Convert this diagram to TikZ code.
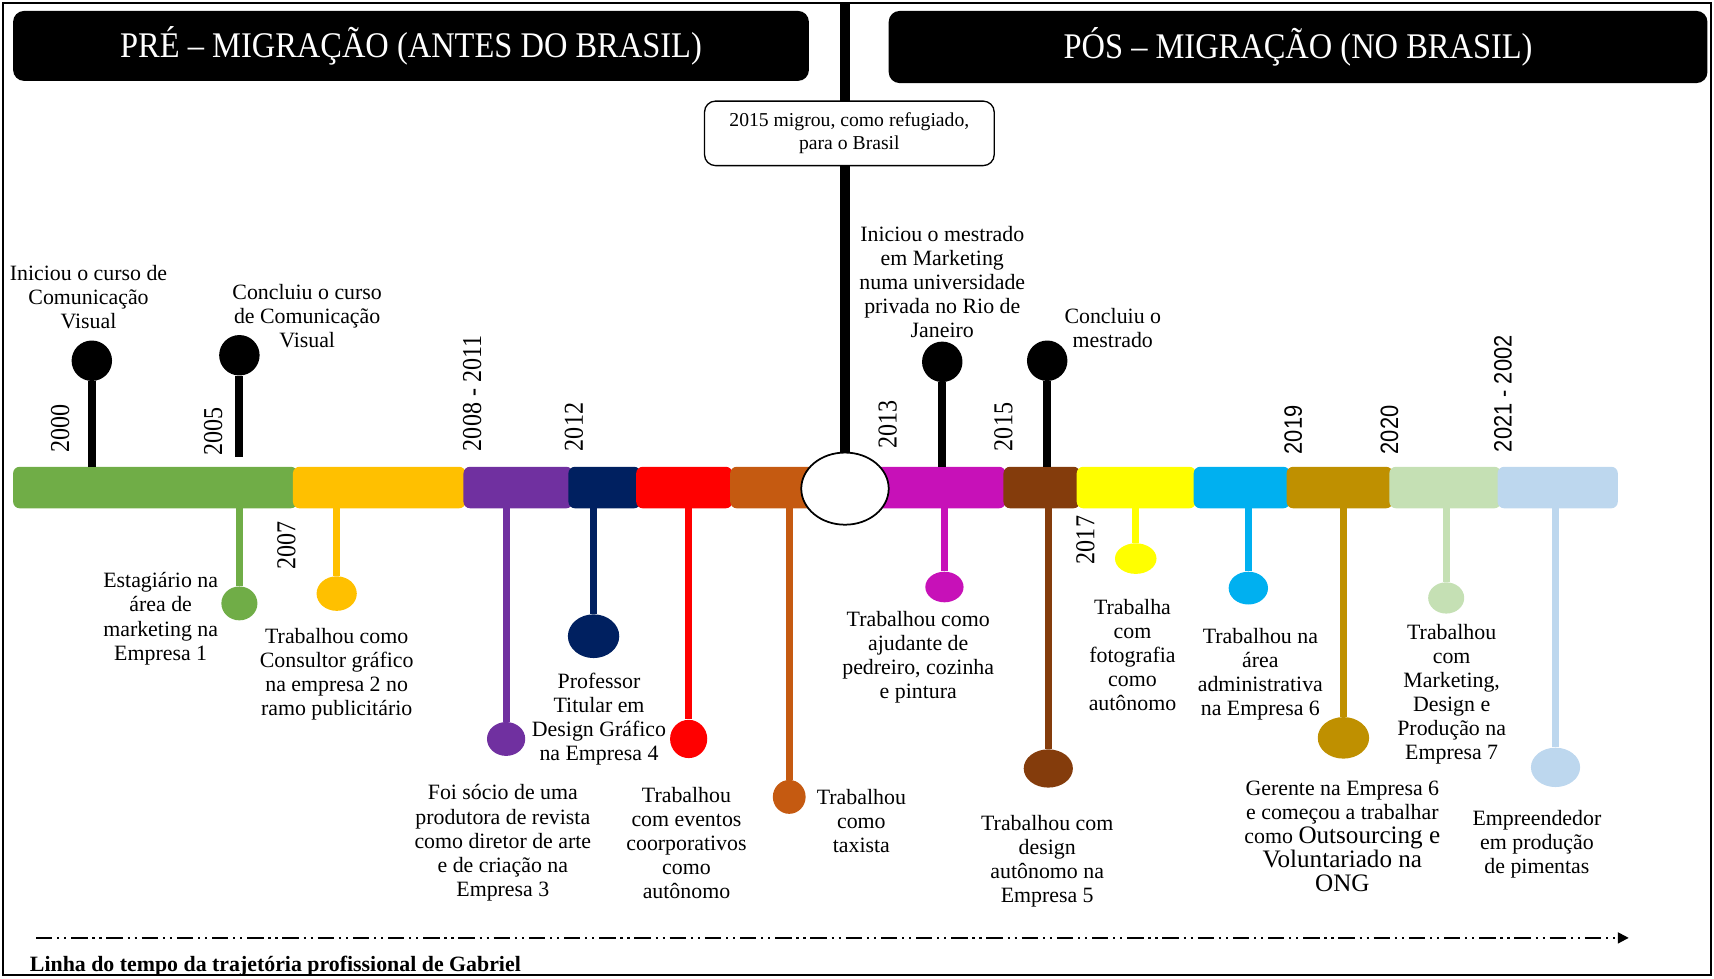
\documentclass[tikz,border=0pt]{standalone}
\usepackage{fontspec}
\setmainfont{Liberation Serif}
\newfontfamily\yrsans{Liberation Sans}
\usetikzlibrary{shapes.geometric,arrows.meta}

\definecolor{cGreen}{HTML}{70AD47}
\definecolor{cOrange}{HTML}{FFC000}
\definecolor{cPurple}{HTML}{7030A0}
\definecolor{cNavy}{HTML}{002060}
\definecolor{cRed}{HTML}{FF0000}
\definecolor{cRust}{HTML}{C55A11}
\definecolor{cMagenta}{HTML}{C711B8}
\definecolor{cBrown}{HTML}{843C0C}
\definecolor{cYellow}{HTML}{FFFF00}
\definecolor{cCyan}{HTML}{00B0F0}
\definecolor{cGold}{HTML}{BF9000}
\definecolor{cLtGreen}{HTML}{C5E0B4}
\definecolor{cLtBlue}{HTML}{BDD7EE}

\newcommand{\bigw}[1]{{\fontsize{11.5}{13}\selectfont #1}}

\begin{document}
\begin{tikzpicture}[x=0.5pt,y=-0.5pt,
  hdr/.style={fill=black,rounded corners=5pt,text=white,inner sep=0pt,
    font=\fontsize{16.5}{18}\selectfont},
  lbl/.style={align=center,inner sep=0pt,font=\fontsize{10}{11}\selectfont},
  yr/.style={rotate=90,inner sep=0pt,font=\fontsize{12.5}{13}\selectfont},
  yrs/.style={rotate=90,inner sep=0pt,font=\yrsans\fontsize{11.5}{12}\selectfont},
  seg/.style={fill=#1,rounded corners=3pt},
  pinup/.style={circle,fill=black,minimum size=18.5pt,inner sep=0pt},
  pindn/.style={ellipse,fill=#1,inner sep=0pt},
  stemup/.style={line width=3.6pt},
  stemdn/.style={line width=3.2pt,draw=#1},
]
\useasboundingbox (0,0) rectangle (1568,895);

% outer frame
\draw[line width=0.9pt] (3,3) rectangle (1565,892);

% section headers
\node[hdr,minimum width=364pt,minimum height=32pt] (hdrL) at (376,42)
  {\scalebox{0.9}[1]{PRÉ – MIGRAÇÃO (ANTES DO BRASIL)}};
\node[hdr,minimum width=374.5pt,minimum height=33pt] (hdrR) at (1187.5,43)
  {\scalebox{0.9}[1]{PÓS – MIGRAÇÃO (NO BRASIL)}};

% coloured timeline bar
\fill[seg=cGreen]   (12,427)  rectangle (272,465);
\fill[seg=cOrange]  (268,427) rectangle (426,465);
\fill[seg=cPurple]  (424,427) rectangle (524,465);
\fill[seg=cNavy]    (520,427) rectangle (586,465);
\fill[seg=cRed]     (582,427) rectangle (670,465);
\fill[seg=cRust]    (668,427) rectangle (765,465);
\fill[seg=cMagenta] (785,427) rectangle (920,465);
\fill[seg=cBrown]   (918,427) rectangle (988,465);
\fill[seg=cYellow]  (985,427) rectangle (1094,465);
\fill[seg=cCyan]    (1092,427) rectangle (1180,465);
\fill[seg=cGold]    (1177,427) rectangle (1274,465);
\fill[seg=cLtGreen] (1271,427) rectangle (1373,465);
\fill[seg=cLtBlue]  (1370,427) rectangle (1480,465);

% migration marker
\node[ellipse,draw=black,fill=white,line width=0.8pt,minimum width=40pt,
  minimum height=33pt,inner sep=0pt] (hub) at (773,447) {};
\coordinate (topend) at (773,3);
\draw[line width=4.2pt] (topend) -- (hub.north);
\node[draw=black,fill=white,rounded corners=5pt,line width=0.6pt,
  minimum width=132.5pt,minimum height=29.5pt,align=center,inner sep=0pt,
  font=\fontsize{9}{10.5}\selectfont] (mig) at (777,122)
  {2015 migrou, como refugiado,\\para o Brasil};

% events above the bar
\node[pinup] (u1) at (84,330) {};
\coordinate (bu1) at (84,427);
\draw[stemup] (bu1) -- (u1);
\node[pinup] (u2) at (219,325) {};
\coordinate (bu2) at (219,418);
\draw[stemup] (bu2) -- (u2);
\node[pinup] (u3) at (862,331) {};
\coordinate (bu3) at (862,427);
\draw[stemup] (bu3) -- (u3);
\node[pinup] (u4) at (958,330) {};
\coordinate (bu4) at (958,427);
\draw[stemup] (bu4) -- (u4);

\node[lbl] (tu1) at (81,271.5) {Iniciou o curso de\\Comunicação\\Visual};
\node[lbl] (tu2) at (281,289) {Concluiu o curso\\de Comunicação\\Visual};
\node[lbl] (tu3) at (862,258) {Iniciou o mestrado\\em Marketing\\numa universidade\\privada no Rio de\\Janeiro};
\node[lbl] (tu4) at (1018,300) {Concluiu o\\mestrado};

% events below the bar
\node[pindn=cGreen,minimum width=16.5pt,minimum height=15.5pt] (d1) at (219,552) {};
\coordinate (bd1) at (219,465);
\draw[stemdn=cGreen] (bd1) -- (d1);
\node[pindn=cOrange,minimum width=18.4pt,minimum height=15.8pt] (d2) at (308,543) {};
\coordinate (bd2) at (308,465);
\draw[stemdn=cOrange] (bd2) -- (d2);
\node[pindn=cPurple,minimum width=17.5pt,minimum height=15.5pt] (d3) at (463,676) {};
\coordinate (bd3) at (463,465);
\draw[stemdn=cPurple] (bd3) -- (d3);
\node[pindn=cNavy,minimum width=23.5pt,minimum height=20pt] (d4) at (543,582) {};
\coordinate (bd4) at (543,465);
\draw[stemdn=cNavy] (bd4) -- (d4);
\node[pindn=cRed,minimum width=17pt,minimum height=17.5pt] (d5) at (630,676) {};
\coordinate (bd5) at (630,465);
\draw[stemdn=cRed] (bd5) -- (d5);
\node[pindn=cRust,minimum width=15pt,minimum height=15.5pt] (d6) at (722,729) {};
\coordinate (bd6) at (722,465);
\draw[stemdn=cRust] (bd6) -- (d6);
\node[pindn=cMagenta,minimum width=17.5pt,minimum height=14pt] (d7) at (864,537) {};
\coordinate (bd7) at (864,465);
\draw[stemdn=cMagenta] (bd7) -- (d7);
\node[pindn=cBrown,minimum width=22.5pt,minimum height=17.5pt] (d8) at (959,703) {};
\coordinate (bd8) at (959,465);
\draw[stemdn=cBrown] (bd8) -- (d8);
\node[pindn=cYellow,minimum width=19pt,minimum height=14pt] (d9) at (1039,511) {};
\coordinate (bd9) at (1039,465);
\draw[stemdn=cYellow] (bd9) -- (d9);
\node[pindn=cCyan,minimum width=18pt,minimum height=15pt] (d10) at (1142,538) {};
\coordinate (bd10) at (1142,465);
\draw[stemdn=cCyan] (bd10) -- (d10);
\node[pindn=cGold,minimum width=23.5pt,minimum height=19pt] (d11) at (1229,675) {};
\coordinate (bd11) at (1229,465);
\draw[stemdn=cGold] (bd11) -- (d11);
\node[pindn=cLtGreen,minimum width=16.5pt,minimum height=14.3pt] (d12) at (1323,547) {};
\coordinate (bd12) at (1323,465);
\draw[stemdn=cLtGreen] (bd12) -- (d12);
\node[pindn=cLtBlue,minimum width=22.5pt,minimum height=18pt] (d13) at (1423,702) {};
\coordinate (bd13) at (1423,465);
\draw[stemdn=cLtBlue] (bd13) -- (d13);

\node[lbl] (td1) at (147,566) {Estagiário na\\área de\\marketing na\\Empresa 1};
\node[lbl] (td2) at (308,617) {Trabalhou como\\Consultor gráfico\\na empresa 2 no\\ramo publicitário};
\node[lbl] (td3) at (460,771) {Foi sócio de uma\\produtora de revista\\como diretor de arte\\e de criação na\\Empresa 3};
\node[lbl] (td4) at (548,658) {Professor\\Titular em\\Design Gráfico\\na Empresa 4};
\node[lbl] (td5) at (628,771) {Trabalhou\\com eventos\\coorporativos\\como\\autônomo};
\node[lbl] (td6) at (788,751) {Trabalhou\\como\\taxista};
\node[lbl] (td7) at (840,601) {Trabalhou como\\ajudante de\\pedreiro, cozinha\\e pintura};
\node[lbl] (td8) at (958,788) {Trabalhou com\\design\\autônomo na\\Empresa 5};
\node[lbl] (td9) at (1036,599) {Trabalha\\com\\fotografia\\como\\autônomo};
\node[lbl] (td10) at (1153,617) {Trabalhou na\\área\\administrativa\\na Empresa 6};
\node[lbl] (td11) at (1228,765) {Gerente na Empresa 6\\e começou a trabalhar\\como \bigw{Outsourcing e}\\\bigw{Voluntariado na}\\\bigw{ONG}};
\node[lbl] (td12) at (1328,635) {Trabalhou\\com\\Marketing,\\Design e\\Produção na\\Empresa 7};
\node[lbl] (td13) at (1406,772) {Empreendedor\\em produção\\de pimentas};

% year marks
\node[yr,anchor=west] (y2000) at (55,414) {\scalebox{0.88}[1]{2000}};
\node[yr,anchor=west] (y2005) at (195,417) {\scalebox{0.88}[1]{2005}};
\node[yr,anchor=west] (y2008) at (432,413) {\scalebox{0.88}[1]{2008 - 2011}};
\node[yr,anchor=west] (y2012) at (525,413) {\scalebox{0.88}[1]{2012}};
\node[yr,anchor=west] (y2013) at (812,411) {\scalebox{0.88}[1]{2013}};
\node[yr,anchor=west] (y2015) at (918,413) {\scalebox{0.88}[1]{2015}};
\node[yrs,anchor=west] (y2019) at (1183,416) {\scalebox{0.87}[1]{2019}};
\node[yrs,anchor=west] (y2020) at (1271,416) {\scalebox{0.87}[1]{2020}};
\node[yrs,anchor=west] (y2021) at (1375,414) {\scalebox{0.87}[1]{2021 - 2002}};
\node[yr] (y2007) at (262,499) {\scalebox{0.88}[1]{2007}};
\node[yr] (y2017) at (993,494) {\scalebox{0.88}[1]{2017}};

% time arrow and caption
\coordinate (arrS) at (33,858);
\coordinate (arrE) at (1490,858);
\draw[line width=0.9pt,
  dash pattern=on 7.5pt off 2.2pt on 1pt off 2.2pt on 1pt off 2.2pt,
  -{Triangle[length=5pt,width=5pt]}] (arrS) -- (arrE);
\node[anchor=west,inner sep=0pt,font=\bfseries\fontsize{10}{12}\selectfont] (cap)
  at (27,884) {Linha do tempo da trajetória profissional de Gabriel};
\end{tikzpicture}
\end{document}
